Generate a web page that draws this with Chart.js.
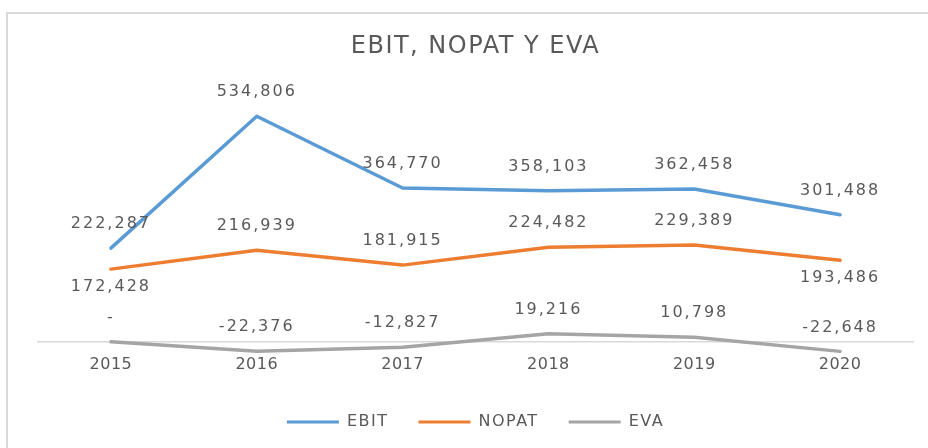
<!DOCTYPE html>
<html>
<head>
<meta charset="utf-8">
<script src="https://cdn.jsdelivr.net/npm/chart.js@4.4.1/dist/chart.umd.min.js"></script>
<style>
  html, body { margin: 0; padding: 0; background: #ffffff; overflow: hidden; }
  #wrap { position: relative; width: 928px; height: 448px; overflow: hidden; background: #ffffff; }
  #frame { position: absolute; left: 6px; top: 12px; width: 1000px; height: 600px; border: 2px solid #d9d9d9; box-sizing: border-box; }
  #c { position: absolute; left: 0; top: 0; }
</style>
</head>
<body>
<div id="wrap">
  <div id="frame"></div>
  <canvas id="c" width="928" height="448"></canvas>
</div>
<script>
const categories = ['2015', '2016', '2017', '2018', '2019', '2020'];
const ebit  = [222287, 534806, 364770, 358103, 362458, 301488];
const nopat = [172428, 216939, 181915, 224482, 229389, 193486];
const eva   = [0, -22376, -12827, 19216, 10798, -22648];

const seriesNames = ['EBIT', 'NOPAT', 'EVA'];
const seriesColors = ['#5B9BD5', '#ED7D31', '#A5A5A5'];
const nopatLabelPos = ['below', 'above', 'above', 'above', 'above', 'below'];

const TEXT = '#595959';
Chart.defaults.font.family = "'DejaVu Sans', sans-serif";
Chart.defaults.color = TEXT;

function fmt(v) {
  return v === 0 ? '-' : v.toLocaleString('en-US');
}

const labelPlugin = {
  id: 'labelPlugin',
  beforeUpdate(chart) { chart.ctx.letterSpacing = '1.5px'; },
  beforeDraw(chart) { chart.ctx.letterSpacing = '1.5px'; },
  afterDatasetsDraw(chart) {
    const ctx = chart.ctx;
    ctx.save();
    ctx.letterSpacing = '2px';
    ctx.font = "16px 'DejaVu Sans', sans-serif";
    ctx.fillStyle = TEXT;
    ctx.textAlign = 'center';
    ctx.textBaseline = 'middle';
    chart.data.datasets.forEach((ds, di) => {
      const meta = chart.getDatasetMeta(di);
      meta.data.forEach((pt, i) => {
        const pos = ds.labelPos ? ds.labelPos[i] : 'above';
        const y = pos === 'below' ? pt.y + 18 : pt.y - 24;
        ctx.fillText(fmt(ds.data[i]), pt.x, y);
      });
    });
    ctx.restore();
    ctx.letterSpacing = '0.5px';
  }
};

const datasets = [ebit, nopat, eva].map((d, i) => ({
  label: seriesNames[i],
  data: d,
  borderColor: seriesColors[i],
  backgroundColor: seriesColors[i],
  borderWidth: 3.5,
  borderCapStyle: 'round',
  borderJoinStyle: 'round',
  pointRadius: 0,
  pointHoverRadius: 0,
  tension: 0,
  fill: false,
  labelPos: i === 1 ? nopatLabelPos : null
}));

new Chart(document.getElementById('c'), {
  type: 'line',
  data: { labels: categories, datasets: datasets },
  plugins: [labelPlugin],
  options: {
    responsive: false,
    animation: false,
    events: [],
    layout: { padding: { left: 38, right: 15, top: 13, bottom: 8 } },
    plugins: {
      tooltip: { enabled: false },
      title: {
        display: true,
        text: 'EBIT, NOPAT Y EVA',
        color: TEXT,
        font: { size: 24, weight: 'normal' },
        padding: { top: 19, bottom: 28 }
      },
      legend: {
        display: true,
        position: 'bottom',
        labels: {
          color: TEXT,
          font: { size: 16 },
          boxWidth: 52,
          boxHeight: 3,
          padding: 30,
          generateLabels(chart) {
            return Chart.defaults.plugins.legend.labels.generateLabels(chart).map(l => {
              l.lineWidth = 0;
              return l;
            });
          }
        }
      }
    },
    scales: {
      x: {
        type: 'category',
        offset: true,
        position: { y: 0 },
        grid: { display: false, drawTicks: false },
        border: { display: true, color: '#D9D9D9', width: 1.5 },
        ticks: { color: TEXT, font: { size: 16 }, padding: 13, z: 1, maxRotation: 0, autoSkip: false },
        afterFit(scale) { scale.height = 0; }
      },
      y: {
        display: false,
        min: -100000,
        max: 600000
      }
    }
  }
});
</script>
</body>
</html>
